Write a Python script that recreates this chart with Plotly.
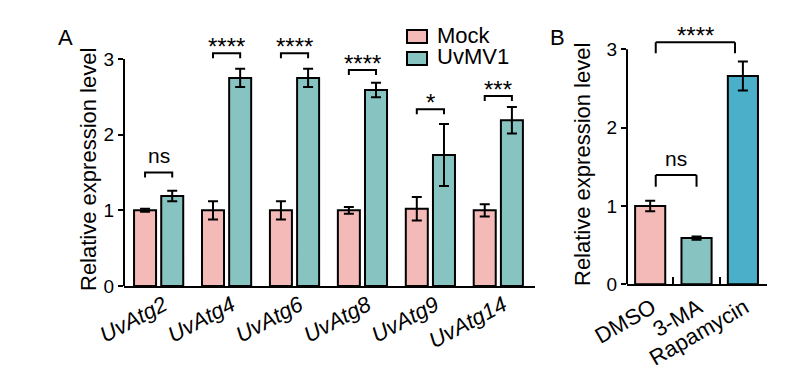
import plotly.graph_objects as go

W, H = 793, 371
OX, OY = 8, 8  # page body margin offset

# ---------------- data ----------------
genes = ["UvAtg2", "UvAtg4", "UvAtg6", "UvAtg8", "UvAtg9", "UvAtg14"]
mock = [1.0, 1.0, 1.0, 1.0, 1.02, 1.0]
mock_err = [0.02, 0.12, 0.12, 0.045, 0.155, 0.08]
uvmv1 = [1.19, 2.75, 2.75, 2.59, 1.73, 2.19]
uvmv1_err = [0.07, 0.12, 0.12, 0.095, 0.41, 0.175]
sig_A = ["ns", "****", "****", "****", "*", "***"]
bracket_A = [1.50, 3.075, 3.075, 2.855, 2.335, 2.51]

treatments = ["DMSO", "3-MA", "Rapamycin"]
treat_vals = [1.0, 0.59, 2.66]
treat_err = [0.068, 0.02, 0.185]
sig_B = ["ns", "****"]
bracket_B = [1.396, 3.09]
bracket_B_from = [0.12, 0.12]
bracket_B_to = [1.0, 1.83]
bracket_B_leg = [0.15, 0.14]

PINK = "#F4BAB8"
TEAL = "#87C4C1"
BLUE = "#4BAFC9"
FONT = "Liberation Sans, Arial, sans-serif"

def px(x):
    return (x - OX) / W

def py(y):
    return 1 - (y - OY) / H

fig = go.Figure()
xi = list(range(len(genes)))
BW = 0.324
fig.add_trace(go.Bar(
    x=xi, y=mock, width=BW, offset=-0.2 - BW / 2, name="Mock",
    marker=dict(color=PINK, line=dict(color="black", width=2)),
    error_y=dict(type="data", array=mock_err, color="black", thickness=2, width=5),
    xaxis="x", yaxis="y", showlegend=False))
fig.add_trace(go.Bar(
    x=xi, y=uvmv1, width=BW, offset=0.2 - BW / 2, name="UvMV1",
    marker=dict(color=TEAL, line=dict(color="black", width=2)),
    error_y=dict(type="data", array=uvmv1_err, color="black", thickness=2, width=5),
    xaxis="x", yaxis="y", showlegend=False))
fig.add_trace(go.Bar(
    x=treatments, y=treat_vals, width=0.65,
    marker=dict(color=[PINK, TEAL, BLUE], line=dict(color="black", width=2)),
    error_y=dict(type="data", array=treat_err, color="black", thickness=2, width=5),
    xaxis="x2", yaxis="y2", showlegend=False))

shapes = []
annotations = []

# y-axis lines (only up to 3)
for xa, ya in (("x", "y"), ("x2", "y2")):
    shapes.append(dict(type="line", xref=xa + " domain", yref=ya, x0=0, x1=0, y0=0, y1=3,
                       line=dict(color="black", width=2)))

NS_SIZE, STAR_SIZE = 21, 24

# brackets A
LEG_A = 0.065
for i, (s, b) in enumerate(zip(sig_A, bracket_A)):
    x0, x1 = i - 0.2, i + 0.2
    shapes.append(dict(type="path", xref="x", yref="y",
                       path=f"M{x0},{b - LEG_A} L{x0},{b} L{x1},{b} L{x1},{b - LEG_A}",
                       line=dict(color="black", width=2)))
    ns = s == "ns"
    off = 0.22 if ns else 0.09
    annotations.append(dict(x=i, y=b + off, xref="x", yref="y", text=s, showarrow=False,
                            xanchor="center", yanchor="middle",
                            font=dict(size=NS_SIZE if ns else STAR_SIZE, color="black",
                                      family=FONT)))

# brackets B
for s, b, a0, a1, leg in zip(sig_B, bracket_B, bracket_B_from, bracket_B_to, bracket_B_leg):
    for (xa0, ya0, xa1, ya1) in ((a0, b - leg, a0, b), (a0, b, a1, b), (a1, b, a1, b - leg)):
        shapes.append(dict(type="line", xref="x2", yref="y2", x0=xa0, y0=ya0, x1=xa1, y1=ya1,
                           line=dict(color="black", width=2)))
    ns = s == "ns"
    off = 0.21 if ns else 0.08
    annotations.append(dict(x=(a0 + a1) / 2, y=b + off, xref="x2", yref="y2", text=s,
                            showarrow=False, xanchor="center", yanchor="middle",
                            font=dict(size=NS_SIZE if ns else STAR_SIZE, color="black",
                                      family=FONT)))

# legend (manual)
for (y0, y1, col, name, ty) in ((30, 43, PINK, "Mock", 35), (52, 65, TEAL, "UvMV1", 57)):
    shapes.append(dict(type="rect", xref="paper", yref="paper", x0=px(407), x1=px(427),
                       y0=py(y1), y1=py(y0), fillcolor=col, line=dict(color="black", width=2)))
    annotations.append(dict(x=px(435), y=py(ty), xref="paper", yref="paper", text=name,
                            showarrow=False, xanchor="left", yanchor="middle",
                            font=dict(size=22, color="black", family=FONT)))

def paper_text(x, y, text, size, angle=0):
    annotations.append(dict(x=px(x), y=py(y), xref="paper", yref="paper", text=text,
                            textangle=angle, showarrow=False, xanchor="center",
                            yanchor="middle", font=dict(size=size, color="black", family=FONT)))

# panel labels
paper_text(66, 38, "A", 22)
paper_text(557, 37, "B", 22)
# axis titles
paper_text(88, 170, "Relative expression level", 22, -90)
paper_text(583, 165, "Relative expression level", 22, -90)

yaxis_common = dict(range=[0, 3.3], tickmode="array", tickvals=[0, 1, 2, 3],
                    ticks="outside", ticklen=5, tickwidth=2, tickcolor="black",
                    showline=False, showgrid=False, zeroline=False, automargin=False,
                    tickfont=dict(size=19, color="black", family=FONT))

fig.update_layout(
    template="none",
    width=W, height=H,
    margin=dict(l=0, r=0, t=0, b=0, pad=0),
    paper_bgcolor="white", plot_bgcolor="white",
    barmode="overlay",
    showlegend=False,
    font=dict(family=FONT, color="black"),
    xaxis=dict(domain=[px(124), px(535)], range=[-0.51, 5.54], tickmode="array",
               tickvals=xi, ticktext=genes, ticks="", showline=True, linewidth=2,
               linecolor="black", showgrid=False, zeroline=False, tickangle=-28,
               automargin=False, ticklabelstandoff=-4, ticklabelshift=5,
               tickfont=dict(size=22, color="black", family=FONT, style="italic"),
               anchor="y"),
    yaxis=dict(domain=[py(286), py(36.3)], anchor="x", **yaxis_common),
    xaxis2=dict(domain=[px(627), px(767)], range=[-0.5, 2.52], type="category",
                tickson="boundaries", ticks="inside", ticklen=7, tickwidth=2,
                tickcolor="black", showline=True, linewidth=2, linecolor="black",
                showgrid=False, zeroline=False, tickangle=-30, automargin=False,
                ticklabelshift=2,
                tickfont=dict(size=22, color="black", family=FONT), anchor="y2"),
    yaxis2=dict(domain=[py(284.3), py(25.8)], anchor="x2", **yaxis_common),
    shapes=shapes,
    annotations=annotations,
)

fig.write_html("out.html")
